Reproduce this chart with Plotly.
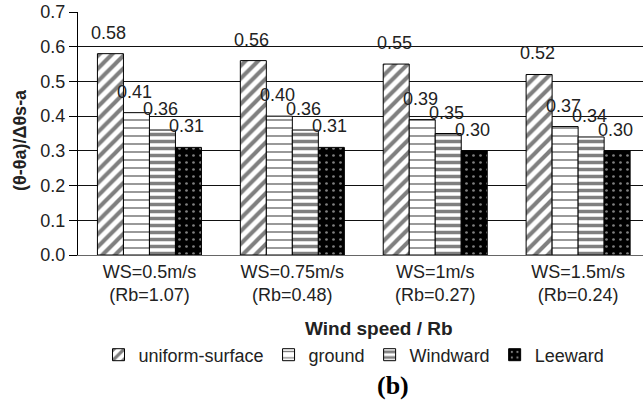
import plotly.graph_objects as go

categories = ["WS=0.5m/s<br>(Rb=1.07)", "WS=0.75m/s<br>(Rb=0.48)",
              "WS=1m/s<br>(Rb=0.27)", "WS=1.5m/s<br>(Rb=0.24)"]
series_names = ["uniform-surface", "ground", "Windward", "Leeward"]
uniform_surface = [0.58, 0.56, 0.55, 0.52]
ground = [0.41, 0.40, 0.39, 0.37]
windward = [0.36, 0.36, 0.35, 0.34]
leeward = [0.31, 0.31, 0.30, 0.30]
y_ticks = [0.0, 0.1, 0.2, 0.3, 0.4, 0.5, 0.6, 0.7]

series = [uniform_surface, ground, windward, leeward]
patterns = [
    dict(shape="/", size=9, solidity=0.45, fgcolor="black", bgcolor="white"),
    dict(shape="-", size=8, solidity=0.2, fgcolor="black", bgcolor="white"),
    dict(shape="-", size=7, solidity=0.5, fgcolor="black", bgcolor="white"),
    dict(shape=".", size=7, solidity=0.12, fgcolor="white", bgcolor="black"),
]
bar_colors = ["white", "white", "white", "black"]

FONT = "Liberation Sans, Arial, sans-serif"
x_idx = list(range(len(categories)))
bargap = 0.272
bw = (1 - bargap) / len(series)
H_PLOT = 243  # plot height in px (402 - 12 - 147)

fig = go.Figure()
for k, (name, vals) in enumerate(zip(series_names, series)):
    fig.add_trace(go.Bar(
        x=x_idx, y=vals, name=name,
        marker=dict(color=bar_colors[k], pattern=patterns[k],
                    line=dict(color="black", width=1)),
    ))
    for i, v in enumerate(vals):
        fig.add_annotation(x=i + (k - 1.5) * bw, y=v, text=f"{v:.2f}",
                           showarrow=False, yshift=21, xshift=-2,
                           yanchor="middle",
                           font=dict(family=FONT, size=18, color="#222"))

fig.update_layout(
    width=643, height=402,
    margin=dict(l=78, r=0, t=12, b=147),
    paper_bgcolor="white", plot_bgcolor="white",
    barmode="group", bargap=bargap, bargroupgap=0,
    font=dict(family=FONT, size=18, color="#222"),
    showlegend=True,
    legend=dict(orientation="h", xref="container", yref="container",
                x=354 / 643, y=1 - 355 / 402, xanchor="center",
                yanchor="middle",
                font=dict(size=18), itemwidth=30, bgcolor="rgba(0,0,0,0)"),
    xaxis=dict(range=[-0.5, 3.454], tickvals=x_idx, ticktext=categories,
               ticks="", showline=True, linecolor="#666", linewidth=1,
               showgrid=False, zeroline=False),
    xaxis2=dict(range=[-0.5, 3.454], overlaying="x", anchor="y", side="bottom",
                tickvals=[0.5, 1.5, 2.5], ticks="outside", ticklen=7,
                tickcolor="#333", showticklabels=False, showgrid=False,
                zeroline=False, showline=False),
    yaxis=dict(range=[0, 0.7], tickvals=y_ticks, tickformat=".1f",
               ticks="outside", ticklen=8, tickcolor="black",
               showline=True, linecolor="black", linewidth=1,
               showgrid=True, gridcolor="#111", gridwidth=1, zeroline=False),
)
# axis titles and panel label
fig.add_annotation(text="<b>Wind speed / Rb</b>", xref="paper", yref="paper",
                   x=(379 - 78) / 565, y=(255 - 328) / H_PLOT,
                   xanchor="center", yanchor="middle", showarrow=False,
                   font=dict(family=FONT, size=19, color="#222"))
fig.add_annotation(text="<b>(θ-θa)/Δθs-a</b>", xref="paper", yref="paper",
                   x=(20 - 78) / 565, y=(255 - 140) / H_PLOT, textangle=-90,
                   xanchor="center", yanchor="middle", showarrow=False,
                   font=dict(family=FONT, size=18, color="#222"))
fig.add_annotation(text="<b>(b)</b>", xref="paper", yref="paper",
                   x=(393 - 78) / 565, y=(255 - 386) / H_PLOT,
                   xanchor="center", yanchor="middle", showarrow=False,
                   font=dict(family="Liberation Serif, Times New Roman, serif",
                             size=26, color="black"))

fig.write_html("out.html",
               config={"displayModeBar": False},
               post_script="document.body.style.margin='0';"
                           "document.body.style.overflow='hidden';")
